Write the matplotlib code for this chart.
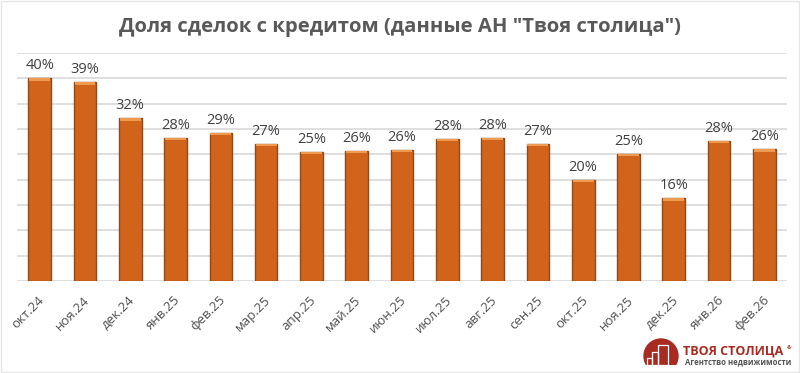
import matplotlib
matplotlib.use('Agg')
import matplotlib.pyplot as plt
from matplotlib.patches import Rectangle, Circle
from matplotlib.transforms import ScaledTranslation

# Datos
meses = ['окт.24', 'ноя.24', 'дек.24', 'янв.25', 'фев.25', 'мар.25', 'апр.25', 'май.25', 'июн.25',
         'июл.25', 'авг.25', 'сен.25', 'окт.25', 'ноя.25', 'дек.25', 'янв.26', 'фев.26']
valores = [40.0, 39.2, 32.1, 28.2, 29.2, 27.0, 25.5, 25.7, 25.9, 28.0, 28.2, 27.0, 20.0, 25.1, 16.3, 27.7, 26.0]
etiquetas = ['40%', '39%', '32%', '28%', '29%', '27%', '25%', '26%', '26%',
             '28%', '28%', '27%', '20%', '25%', '16%', '28%', '26%']

plt.rcParams['font.family'] = ['Open Sans', 'DejaVu Sans']

W, H = 800, 373
fig = plt.figure(figsize=(W / 100, H / 100), dpi=100)
ax = fig.add_axes([17 / W, 1 - 281 / H, (787 - 17) / W, (281 - 53) / H])

x = list(range(len(meses)))
ax.bar(x, valores, width=0.5, color='#d2631a', edgecolor='#8f4a1c', linewidth=1, zorder=3)
# brillo superior de cada barra
ax.bar(x, [0.45] * len(x), bottom=[v - 0.45 for v in valores], width=0.46, color='#ee9a50', linewidth=0, zorder=4)

for i, v in enumerate(valores):
    ax.text(i, v + 1.0, etiquetas[i], ha='center', va='bottom', fontsize=10.5, color='#404040')

ax.set_xlim(-0.5, len(meses) - 0.5)
ax.set_ylim(0, 45)
ax.set_yticks(range(0, 50, 5))
ax.set_yticklabels([])
ax.set_xticks(x)
ax.set_xticklabels(meses, rotation=45, ha='right', rotation_mode='anchor', fontsize=9.5, color='#505050')
ax.tick_params(axis='both', length=0, pad=9)
# mover las etiquetas un poco a la izquierda
desplazar = ScaledTranslation(-1.5 / 72, 0, fig.dpi_scale_trans)
for t in ax.get_xticklabels():
    t.set_transform(t.get_transform() + desplazar)
ax.grid(axis='y', color='#dcdcdc', linewidth=1.3, zorder=0)
ax.set_axisbelow(True)
for s in ax.spines.values():
    s.set_visible(False)

fig.text(400 / W, 1 - 27 / H, 'Доля сделок с кредитом (данные АН "Твоя столица")', ha='center', va='center',
         fontsize=14.6, fontweight='bold', color='#595959')

# Borde de la imagen
fig.add_artist(Rectangle((1 / W, 1 / H), (W - 2) / W, (H - 2) / H, transform=fig.transFigure,
                         fill=False, edgecolor='#e6e6e6', linewidth=1))

# Logo
ax_logo = fig.add_axes([640 / W, 1 - 368 / H, 42 / W, 32 / H])
ax_logo.set_xlim(640, 682)
ax_logo.set_ylim(368, 336)
ax_logo.axis('off')
circulo = Circle((661, 356), 17, color='#a82a20')
ax_logo.add_patch(circulo)
circulo.set_clip_path(Rectangle((640, 336), 42, 29, transform=ax_logo.transData))
ax_logo.add_patch(Rectangle((658, 345), 10, 20, fill=False, edgecolor='white', linewidth=0.9))
ax_logo.add_patch(Rectangle((652, 352), 6, 13, fill=False, edgecolor='white', linewidth=0.9))
ax_logo.add_patch(Rectangle((647, 358), 5, 7, fill=False, edgecolor='white', linewidth=0.9))
fig.text(683 / W, 1 - 351 / H, 'ТВОЯ СТОЛИЦА', ha='left', va='center', fontsize=9, fontweight='bold', color='#a82a20')
fig.text(787 / W, 1 - 348 / H, '®', ha='left', va='center', fontsize=4, fontweight='bold', color='#a82a20')
fig.text(685 / W, 1 - 362 / H, 'Агентство недвижимости', ha='left', va='center', fontsize=5.6, fontweight='bold', color='#555555')

fig.savefig('out.png', dpi=100)
